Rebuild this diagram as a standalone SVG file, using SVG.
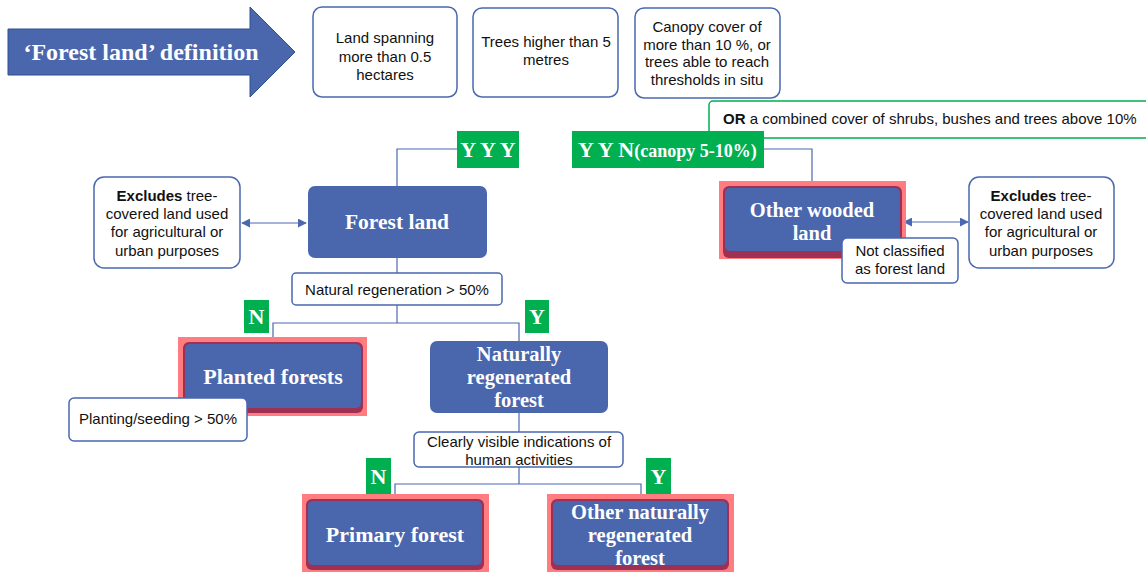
<svg xmlns="http://www.w3.org/2000/svg" width="1146" height="572" viewBox="0 0 1146 572">
<style>
.wb{fill:#fff;stroke:#4a68b0;stroke-width:1.5}
.t{font-family:"Liberation Sans",Arial,sans-serif;font-size:15px;fill:#111;text-anchor:middle}
.s{font-family:"Liberation Serif","Times New Roman",serif;font-weight:bold;fill:#fff;text-anchor:middle}
.blue{fill:#4a66ad}
.glow{fill:#ff7c80}
.mar{fill:#9e3054}
.grn{fill:#00b050}
.ln{fill:none;stroke:#4a68b0;stroke-width:1.2}
</style>
<defs>
<marker id="ah" viewBox="0 0 10 10" refX="9" refY="5" markerWidth="9" markerHeight="9" markerUnits="userSpaceOnUse" orient="auto-start-reverse">
<path d="M0,0 L10,5 L0,10 Z" fill="#4a68b0"/>
</marker>
</defs>

<g id="connectors">
<polyline class="ln" points="457,149 397,149 397,186"/>
<line class="ln" x1="397" y1="258" x2="397" y2="273"/>
<polyline class="ln" points="397,305 397,323"/>
<polyline class="ln" points="273,342 273,323 519,323 519,341"/>
<line class="ln" x1="519" y1="413" x2="519" y2="432"/>
<polyline class="ln" points="519,467 519,484"/>
<polyline class="ln" points="395,499 395,484 641,484 641,499"/>
<polyline class="ln" points="764,149 812,149 812,186"/>
<line class="ln" x1="242" y1="223" x2="306" y2="223" marker-start="url(#ah)" marker-end="url(#ah)"/>
<line class="ln" x1="904" y1="222" x2="968" y2="222" marker-start="url(#ah)" marker-end="url(#ah)"/>
</g>

<g id="title">
<path d="M8,29 L250,29 L250,7 L295,52 L250,97 L250,75 L8,75 Z" fill="#4a66ad" stroke="#2f4f8f" stroke-width="1"/>
<text class="s" x="141" y="60" font-size="24">‘Forest land’ definition</text>
</g>

<g id="crit1">
<rect class="wb" x="313" y="7" width="144" height="90" rx="9"/>
<text class="t" x="385" y="43">Land spanning<tspan x="385" dy="18.5">more than 0.5</tspan><tspan x="385" dy="18.5">hectares</tspan></text>
</g>
<g id="crit2">
<rect class="wb" x="473" y="8" width="145" height="89" rx="9"/>
<text class="t" x="546" y="47">Trees higher than 5<tspan x="546" dy="18">metres</tspan></text>
</g>
<g id="crit3">
<rect class="wb" x="635" y="8" width="145" height="90" rx="9"/>
<text class="t" x="707" y="32">Canopy cover of<tspan x="707" dy="17.7">more than 10 %, or</tspan><tspan x="707" dy="17.7">trees able to reach</tspan><tspan x="707" dy="17.7">thresholds in situ</tspan></text>
</g>

<g id="or-note">
<rect x="709" y="101" width="440" height="37" rx="4" fill="#fff" stroke="#00b050" stroke-width="1.5"/>
<text class="t" x="723" y="124" style="text-anchor:start"><tspan font-weight="bold">OR</tspan> a combined cover of shrubs, bushes and trees above 10%</text>
</g>

<g id="yyy">
<rect class="grn" x="457" y="131" width="62" height="37"/>
<text class="s" x="488" y="157" font-size="22">Y Y Y</text>
</g>
<g id="yyn">
<rect class="grn" x="572" y="131" width="192" height="37"/>
<text class="s" x="578" y="157" font-size="22" style="text-anchor:start">Y Y N<tspan font-size="18">(canopy 5-10%)</tspan></text>
</g>

<g id="excl-left">
<rect class="wb" x="94" y="177" width="146" height="91" rx="10"/>
<text class="t" x="167" y="201"><tspan font-weight="bold">Excludes</tspan> tree-<tspan x="167" dy="18">covered land used</tspan><tspan x="167" dy="18">for agricultural or</tspan><tspan x="167" dy="18.5">urban purposes</tspan></text>
</g>

<g id="forest-land">
<rect class="blue" x="308" y="186" width="179" height="72" rx="7"/>
<text class="s" x="397" y="229" font-size="21.5">Forest land</text>
</g>

<g id="other-wooded">
<rect class="glow" x="719" y="181" width="187" height="78"/>
<rect class="mar" x="723" y="186" width="179" height="72" rx="6"/>
<rect class="blue" x="725" y="188" width="175" height="63" rx="5"/>
<text class="s" x="812" y="217" font-size="20.5">Other wooded<tspan x="812" dy="23">land</tspan></text>
</g>

<g id="not-classified">
<rect class="wb" x="842" y="238" width="116" height="45" rx="5"/>
<text class="t" x="900" y="256">Not classified<tspan x="900" dy="18">as forest land</tspan></text>
</g>

<g id="excl-right">
<rect class="wb" x="969" y="177" width="145" height="91" rx="10"/>
<text class="t" x="1041" y="201"><tspan font-weight="bold">Excludes</tspan> tree-<tspan x="1041" dy="18">covered land used</tspan><tspan x="1041" dy="18">for agricultural or</tspan><tspan x="1041" dy="18.5">urban purposes</tspan></text>
</g>

<g id="natural-regen">
<rect class="wb" x="292" y="273" width="210" height="32" rx="4"/>
<text class="t" x="397" y="295">Natural regeneration &gt; 50%</text>
</g>

<g id="n1">
<rect class="grn" x="244" y="300" width="25" height="33"/>
<text class="s" x="256.5" y="324" font-size="22">N</text>
</g>
<g id="y1">
<rect class="grn" x="525" y="300" width="24" height="33"/>
<text class="s" x="537" y="324" font-size="22">Y</text>
</g>

<g id="planted">
<rect class="glow" x="178" y="337" width="189" height="79"/>
<rect class="mar" x="183" y="342" width="180" height="71" rx="6"/>
<rect class="blue" x="185" y="344" width="176" height="64" rx="5"/>
<text class="s" x="273" y="384" font-size="22">Planted forests</text>
</g>

<g id="planting">
<rect class="wb" x="69" y="398" width="178" height="43" rx="5"/>
<text class="t" x="158" y="424">Planting/seeding &gt; 50%</text>
</g>

<g id="nat-regen-forest">
<rect class="blue" x="430" y="341" width="178" height="72" rx="7"/>
<text class="s" x="519" y="361" font-size="20.5">Naturally<tspan x="519" dy="23">regenerated</tspan><tspan x="519" dy="23">forest</tspan></text>
</g>

<g id="human">
<rect class="wb" x="414" y="432" width="209" height="35" rx="5"/>
<text class="t" x="519" y="447">Clearly visible indications of<tspan x="519" dy="17.5">human activities</tspan></text>
</g>

<g id="n2">
<rect class="grn" x="366" y="458" width="25" height="38"/>
<text class="s" x="378.5" y="484" font-size="22">N</text>
</g>
<g id="y2">
<rect class="grn" x="646" y="458" width="25" height="38"/>
<text class="s" x="658.5" y="484" font-size="22">Y</text>
</g>

<g id="primary">
<rect class="glow" x="302" y="494" width="187" height="80"/>
<rect class="mar" x="306" y="499" width="178" height="71" rx="6"/>
<rect class="blue" x="308" y="501" width="174" height="64" rx="5"/>
<text class="s" x="395" y="542" font-size="22">Primary forest</text>
</g>

<g id="other-natural">
<rect class="glow" x="547" y="494" width="187" height="80"/>
<rect class="mar" x="551" y="499" width="178" height="71" rx="6"/>
<rect class="blue" x="553" y="501" width="174" height="64" rx="5"/>
<text class="s" x="640" y="519" font-size="20.5">Other naturally<tspan x="640" dy="23">regenerated</tspan><tspan x="640" dy="23">forest</tspan></text>
</g>
</svg>
